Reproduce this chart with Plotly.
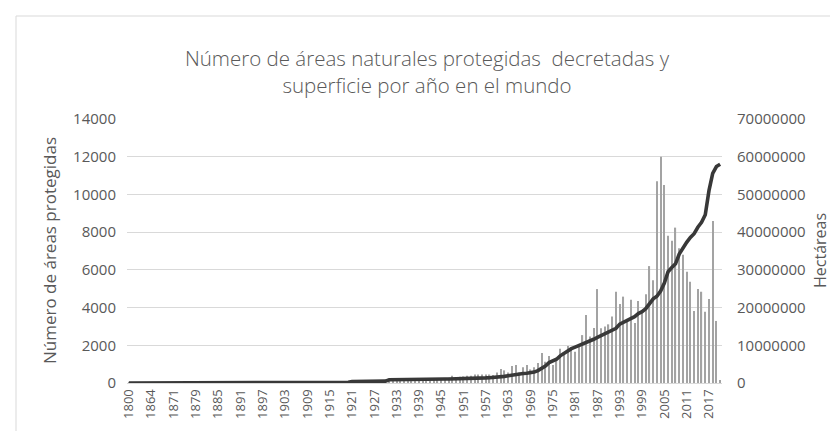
import plotly.graph_objects as go

# ---------------- data ----------------
anios_tempranos = [1800, 1821, 1836, 1849, 1858, 1861, 1864, 1865, 1866, 1867,
                   1868, 1869, 1871, 1872, 1873, 1874, 1876, 1878, 1879]
anios_recientes = list(range(1880, 2021))
anios = [str(a) for a in anios_tempranos + anios_recientes]

areas_tempranas = [1, 1, 1, 1, 1, 1, 2, 1, 1, 1, 2, 1, 2, 1, 2, 1, 2, 2, 3]
areas_1880_1919 = [3, 2, 4, 3, 2, 5, 4, 3, 6, 5,
                   8, 6, 7, 9, 8, 10, 9, 12, 11, 13,
                   15, 12, 18, 14, 16, 20, 18, 22, 19, 25,
                   28, 24, 30, 26, 35, 22, 18, 20, 25, 40]
areas_1920_1959 = [45, 60, 50, 55, 48, 52, 58, 62, 70, 65,
                   80, 90, 85, 110, 120, 130, 140, 150, 160, 220,
                   180, 160, 150, 170, 200, 230, 260, 280, 390, 300,
                   330, 350, 380, 390, 450, 450, 450, 450, 450, 420]
areas_1960_1999 = [560, 740, 670, 560, 900, 950, 560, 830, 950, 720,
                   830, 1060, 1590, 1130, 1430, 950, 1220, 1820, 1480, 1960,
                   1750, 1660, 1930, 2540, 3600, 2460, 2920, 4980, 2900, 2990,
                   3110, 3520, 4840, 4190, 4580, 3250, 4410, 3180, 4350, 3800]
areas_2000_2020 = [4700, 6200, 5450, 10700, 12000, 10500, 7810, 7550, 8240, 7140,
                   6800, 5900, 5370, 3820, 4980, 4840, 3780, 4450, 8590, 3290, 160]
areas = areas_tempranas + areas_1880_1919 + areas_1920_1959 + areas_1960_1999 + areas_2000_2020

# superficie acumulada (millones de hectáreas)
sup_tempranas = [0.0, 0.0, 0.01, 0.01, 0.01, 0.01, 0.02, 0.02, 0.02, 0.02,
                 0.02, 0.02, 0.03, 0.03, 0.03, 0.03, 0.03, 0.04, 0.04]
sup_1880_1919 = [0.04, 0.04, 0.04, 0.05, 0.05, 0.05, 0.05, 0.05, 0.06, 0.06,
                 0.06, 0.06, 0.07, 0.07, 0.07, 0.08, 0.08, 0.09, 0.09, 0.10,
                 0.10, 0.10, 0.11, 0.11, 0.12, 0.12, 0.13, 0.13, 0.14, 0.15,
                 0.15, 0.16, 0.16, 0.17, 0.17, 0.18, 0.18, 0.19, 0.19, 0.20]
sup_1920_1959 = [0.20, 0.40, 0.42, 0.43, 0.44, 0.45, 0.46, 0.47, 0.48, 0.49,
                 0.50, 0.85, 0.88, 0.90, 0.92, 0.94, 0.95, 0.96, 0.98, 1.00,
                 1.00, 1.01, 1.02, 1.03, 1.04, 1.05, 1.06, 1.07, 1.08, 1.09,
                 1.10, 1.12, 1.15, 1.18, 1.22, 1.26, 1.30, 1.35, 1.40, 1.45]
sup_1960_1999 = [1.50, 1.60, 1.75, 1.90, 2.10, 2.30, 2.40, 2.50, 2.60, 2.70,
                 2.90, 3.30, 3.90, 4.50, 5.40, 5.80, 6.30, 7.20, 7.90, 8.50,
                 9.10, 9.50, 9.90, 10.30, 10.60, 11.10, 11.60, 12.10, 12.60, 13.00,
                 13.50, 13.90, 14.50, 15.60, 16.10, 16.50, 17.00, 17.60, 18.40, 18.90]
sup_2000_2020 = [19.70, 21.20, 22.30, 23.00, 24.40, 26.50, 29.50, 30.60, 31.60, 34.20,
                 35.90, 37.30, 38.60, 39.60, 41.30, 42.60, 44.60, 51.00, 55.60, 57.40, 58.00]
superficie_mha = sup_tempranas + sup_1880_1919 + sup_1920_1959 + sup_1960_1999 + sup_2000_2020
superficie_ha = [v * 1_000_000 for v in superficie_mha]

etiquetas_x = ["1800", "1864", "1871", "1879", "1885", "1891", "1897", "1903", "1909",
               "1915", "1921", "1927", "1933", "1939", "1945", "1951", "1957", "1963",
               "1969", "1975", "1981", "1987", "1993", "1999", "2005", "2011", "2017"]

titulo = "Número de áreas naturales protegidas\u00a0 decretadas y<br>superficie por año en el mundo"

# ---------------- figure ----------------
GRIS_TXT = "#595959"
FONT = "Open Sans"

fig = go.Figure()
fig.add_trace(go.Bar(x=anios, y=areas, marker=dict(color="#a3a3a3", line=dict(width=0)),
                     name="Número de áreas protegidas", yaxis="y"))
fig.add_trace(go.Scatter(x=anios, y=superficie_ha, mode="lines",
                         line=dict(color="#383838", width=3.6),
                         name="Hectáreas", yaxis="y2"))

L, R, T, B = 119, 124, 111, 56
W, H = 838, 431
pw, ph = W - L - R, H - T - B

fig.update_layout(
    width=W, height=H,
    margin=dict(l=L, r=R, t=T, b=B, pad=0),
    paper_bgcolor="white", plot_bgcolor="white",
    showlegend=False,
    bargap=0.68,
    font=dict(family=FONT, color=GRIS_TXT, size=14),
    title=dict(text=titulo, x=0.5, xanchor="center", xref="container",
               y=1 - 58 / H, yanchor="middle", yref="container",
               font=dict(family=FONT, size=20.5, color=GRIS_TXT, weight=300)),
    xaxis=dict(type="category", tickmode="array", tickvals=etiquetas_x, ticktext=etiquetas_x,
               tickangle=-90, showgrid=False, showline=True, linecolor="#d9d9d9",
               ticks="", tickfont=dict(size=13, color=GRIS_TXT), zeroline=False),
    yaxis=dict(range=[0, 14000], dtick=2000, tickformat="d", showgrid=True,
               gridcolor="#d9d9d9", gridwidth=1, zeroline=False, showline=False,
               ticks="", ticklabelstandoff=10, tickfont=dict(size=15, color=GRIS_TXT)),
    yaxis2=dict(range=[0, 70000000], dtick=10000000, tickformat="d", overlaying="y",
                side="right", showgrid=False, zeroline=False, showline=False,
                ticks="", ticklabelstandoff=14, tickfont=dict(size=15, color=GRIS_TXT)),
    annotations=[
        dict(text="Número de áreas protegidas", xref="paper", yref="paper",
             x=(41 - L) / pw, y=0.5, textangle=-90, showarrow=False,
             xanchor="center", yanchor="middle",
             font=dict(size=17, color=GRIS_TXT, family=FONT)),
        dict(text="Hectáreas", xref="paper", yref="paper",
             x=(812 - L) / pw, y=0.5, textangle=-90, showarrow=False,
             xanchor="center", yanchor="middle",
             font=dict(size=16, color=GRIS_TXT, family=FONT)),
    ],
    shapes=[dict(type="rect", xref="paper", yref="paper",
                 x0=(8 - L) / pw, x1=(831 - L) / pw,
                 y0=(H - B - 445) / ph, y1=(H - B - 8) / ph,
                 line=dict(color="#d9d9d9", width=1), fillcolor="rgba(0,0,0,0)",
                 layer="below")],
)

fig.write_html("out.html")
